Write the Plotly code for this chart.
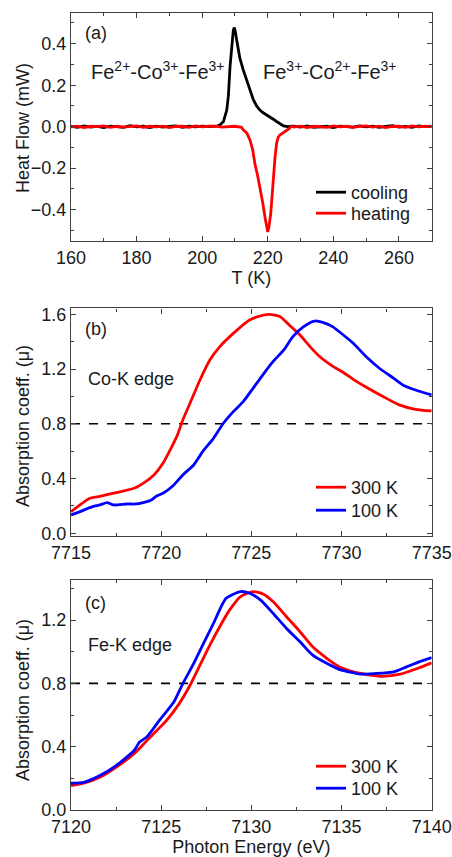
import plotly.graph_objects as go

# ---------------- Panel (a): DSC heat flow ----------------
T_cool = [160, 162, 164, 166, 168, 170, 172, 174, 176, 178, 180, 182, 184, 186, 188, 190, 192, 194, 196, 198, 200, 202,
          203.4, 204.5, 205.4, 206.5, 207.5, 208.0, 208.5, 209.0, 209.5, 209.8, 210.1, 210.5, 211.0, 211.5, 212.5,
          213.6, 214.6, 215.6, 216.6, 217.6, 218.6, 219.7, 220.7, 221.7, 222.7, 223.7, 224.8, 226,
          228, 230, 232, 234, 236, 238, 240, 242, 244, 246, 248, 250, 252, 254, 256, 258, 260, 262, 264, 266, 268, 270]
HF_cool = [0.002, -0.003, 0.004, -0.002, 0.001, -0.004, 0.003, 0.000, -0.003, 0.005, -0.001, 0.002, -0.004, 0.003,
           -0.002, 0.001, 0.004, -0.003, 0.002, -0.001, 0.003, 0.000,
           0.0, 0.003, 0.008, 0.025, 0.08, 0.15, 0.29, 0.40, 0.465, 0.478, 0.46, 0.42, 0.37, 0.33, 0.275,
           0.227, 0.175, 0.13, 0.10, 0.08, 0.067, 0.057, 0.046, 0.036, 0.025, 0.013, 0.004, 0.0,
           0.003, -0.002, 0.004, -0.003, 0.001, 0.002, -0.004, 0.003, 0.000, -0.002, 0.004, -0.001, 0.003, -0.003,
           0.002, 0.005, -0.002, 0.001, -0.003, 0.004, 0.000, 0.002]

T_heat = [160, 162, 164, 166, 168, 170, 172, 174, 176, 178, 180, 182, 184, 186, 188, 190, 192, 194, 196, 198, 200, 202,
          204, 206, 208, 210, 212,
          212.6, 213.6, 214.6, 215.4, 216.1, 216.9, 217.6, 218.4, 219.2, 219.7, 220.0, 220.4, 220.9, 221.3, 221.7,
          222.2, 222.7, 223.2, 223.7, 224.7, 225.8, 226.5, 227.3,
          228, 230, 232, 234, 236, 238, 240, 242, 244, 246, 248, 250, 252, 254, 256, 258, 260, 262, 264, 266, 268, 270]
HF_heat = [-0.001, 0.003, -0.004, 0.002, 0.000, 0.004, -0.003, 0.002, -0.002, 0.001, 0.004, -0.003, 0.002, -0.001,
           0.003, -0.004, 0.001, 0.002, -0.003, 0.004, -0.001, 0.002, 0.003, -0.002, 0.001, 0.002, -0.003,
           -0.016, -0.03, -0.065, -0.11, -0.18, -0.235, -0.29, -0.36, -0.44, -0.49, -0.507, -0.48, -0.42, -0.34, -0.24,
           -0.15, -0.08, -0.05, -0.04, -0.03, -0.02, -0.01, 0.003,
           -0.002, 0.003, -0.004, 0.002, 0.001, -0.003, 0.004, -0.001, 0.002, -0.003, 0.001, 0.004, -0.002, 0.003,
           -0.004, 0.001, 0.002, -0.003, 0.004, -0.001, 0.002, 0.000]

# ---------------- Panel (b): Co-K edge ----------------
E_co_300 = [7715.0, 7716.05, 7716.6, 7717.5, 7718.5, 7719.0, 7719.6, 7720.1, 7720.5, 7720.9, 7721.2, 7721.6, 7722.15,
            7722.7, 7723.25, 7724.0, 7724.9, 7725.7, 7726.0, 7726.6, 7727.1, 7727.7, 7728.25, 7728.8, 7729.5, 7730.1,
            7730.65, 7731.4, 7732.3, 7733.2, 7734.1, 7735.0]
mu_co_300 = [0.158, 0.256, 0.27, 0.297, 0.329, 0.365, 0.426, 0.511, 0.609, 0.718, 0.828, 0.95, 1.12,
             1.266, 1.364, 1.461, 1.559, 1.595, 1.6, 1.583, 1.522, 1.449, 1.364, 1.29, 1.222, 1.175,
             1.125, 1.065, 0.999, 0.938, 0.906, 0.894]
E_co_100 = [7715.0, 7715.5, 7716.2, 7716.6, 7717.0, 7717.35, 7718.1, 7718.6, 7719.4, 7719.75, 7720.1, 7720.7, 7721.2,
            7721.8, 7722.3, 7722.9, 7723.45, 7724.0, 7724.55, 7725.1, 7725.7, 7726.2, 7726.8, 7727.3, 7727.9, 7728.5,
            7729.0, 7729.5, 7730.1, 7730.65, 7731.4, 7732.1, 7732.9, 7733.4, 7734.1, 7735.0]
mu_co_100 = [0.134, 0.158, 0.195, 0.207, 0.224, 0.207, 0.214, 0.214, 0.239, 0.273, 0.292, 0.353, 0.426,
             0.499, 0.597, 0.694, 0.804, 0.889, 0.962, 1.06, 1.169, 1.254, 1.34, 1.437, 1.51, 1.551,
             1.539, 1.51, 1.449, 1.388, 1.286, 1.206, 1.132, 1.084, 1.047, 1.011]

# ---------------- Panel (c): Fe-K edge ----------------
E_fe_300 = [7120.0, 7120.7, 7121.6, 7122.5, 7123.5, 7124.4, 7125.3, 7126.0, 7126.6, 7127.15, 7127.7, 7128.3, 7128.8,
            7129.4, 7130.1, 7130.65, 7131.2, 7131.95, 7132.7, 7133.4, 7134.2, 7134.9, 7135.65, 7136.4, 7137.3, 7138.25,
            7139.2, 7140.0]
mu_fe_300 = [0.154, 0.169, 0.207, 0.27, 0.355, 0.461, 0.566, 0.672, 0.788, 0.915, 1.042, 1.169, 1.264,
             1.348, 1.38, 1.365, 1.317, 1.221, 1.126, 1.031, 0.957, 0.904, 0.873, 0.856, 0.845, 0.858,
             0.894, 0.93]
E_fe_100 = [7120.0, 7120.7, 7121.6, 7122.5, 7123.5, 7123.8, 7124.2, 7124.9, 7125.7, 7126.2, 7126.8, 7127.3, 7127.9,
            7128.6, 7129.4, 7129.9, 7130.5, 7131.2, 7131.95, 7132.7, 7133.4, 7134.2, 7134.9, 7135.85, 7136.0, 7136.8,
            7137.9, 7138.6, 7139.3, 7140.0]
mu_fe_100 = [0.169, 0.175, 0.218, 0.281, 0.376, 0.429, 0.461, 0.566, 0.682, 0.799, 0.925, 1.042, 1.179,
             1.337, 1.38, 1.369, 1.327, 1.243, 1.147, 1.063, 0.978, 0.925, 0.887, 0.862, 0.858, 0.862,
             0.873, 0.904, 0.936, 0.963]

DASH_LEVEL = 0.8

FONT = "Liberation Sans, Arial, sans-serif"
TXT = "#1a1a1a"
FRAME = "#404040"
RED = "#ff0000"
BLUE = "#0000ff"
LW = 2.8

fig = go.Figure()
traces = [
    (T_cool, HF_cool, "cooling", "black", "x", "y", "legend", "linear"),
    (T_heat, HF_heat, "heating", RED, "x", "y", "legend2", "linear"),
    (E_co_300, mu_co_300, "300 K", RED, "x2", "y2", "legend3", "spline"),
    (E_co_100, mu_co_100, "100 K", BLUE, "x2", "y2", "legend4", "spline"),
    (E_fe_300, mu_fe_300, "300 K", RED, "x3", "y3", "legend5", "spline"),
    (E_fe_100, mu_fe_100, "100 K", BLUE, "x3", "y3", "legend6", "spline"),
]
for xs, ys, name, col, xa, ya_, lg, shp in traces:
    line = dict(color=col, width=LW, shape=shp)
    if shp == "spline":
        line["smoothing"] = 0.6
    fig.add_trace(go.Scatter(x=xs, y=ys, mode="lines", name=name, line=line,
                             xaxis=xa, yaxis=ya_, legend=lg))

XD = [71 / 452, 431.7 / 452]


def xax(rng, dtick, minor, title, anchor):
    return dict(domain=XD, range=rng, dtick=dtick, tick0=rng[0], ticks="inside", ticklen=5, tickwidth=1.3,
                tickcolor=FRAME, minor=dict(dtick=minor, ticks="inside", ticklen=3, tickwidth=1.1, tickcolor=FRAME),
                mirror="allticks", showline=True, linecolor=FRAME, linewidth=1.4, showgrid=False, zeroline=False,
                tickfont=dict(family=FONT, size=18, color=TXT),
                title=dict(text=title, font=dict(family=FONT, size=18, color=TXT), standoff=2),
                anchor=anchor, automargin=False)


def yax(dom, rng, dtick, minor, fmt, anchor):
    return dict(domain=dom, range=rng, dtick=dtick, tick0=0, ticks="inside", ticklen=5, tickwidth=1.3,
                tickcolor=FRAME, minor=dict(dtick=minor, ticks="inside", ticklen=3, tickwidth=1.1, tickcolor=FRAME),
                mirror="allticks", showline=True, linecolor=FRAME, linewidth=1.4, showgrid=False, zeroline=False,
                tickformat=fmt, tickfont=dict(family=FONT, size=18, color=TXT),
                anchor=anchor, automargin=False)


leg_common = dict(font=dict(family=FONT, size=18, color=TXT), bgcolor="rgba(0,0,0,0)", borderwidth=0,
                  xanchor="left", yanchor="top", itemwidth=30)
leg_rows = [174, 195, 469, 492, 748, 770]
legends = {}
for i, top in enumerate(leg_rows):
    key = "legend" if i == 0 else f"legend{i + 1}"
    legends[key] = dict(x=311 / 452, y=1 - top / 857, **leg_common)

fig.update_layout(
    width=452, height=857,
    margin=dict(l=0, r=0, t=0, b=0),
    paper_bgcolor="white", plot_bgcolor="white",
    font=dict(family=FONT, size=18, color=TXT),
    xaxis=xax([160, 270], 20, 10, "T (K)", "y"),
    xaxis2=xax([7715, 7735], 5, 2.5, "", "y2"),
    xaxis3=xax([7120, 7140], 5, 2.5, "Photon Energy (eV)", "y3"),
    yaxis=yax([1 - 241 / 857, 1 - 13 / 857], [-0.551, 0.548], 0.2, 0.1, ".1f", "x"),
    yaxis2=yax([1 - 536 / 857, 1 - 308.3 / 857], [-0.02, 1.644], 0.4, 0.2, ".1f", "x2"),
    yaxis3=yax([1 - 810 / 857, 1 - 580 / 857], [0, 1.453], 0.4, 0.2, ".1f", "x3"),
    showlegend=True,
    **legends,
)

for xr, yr in (("x2", "y2"), ("x3", "y3")):
    fig.add_shape(type="line", xref=f"{xr} domain", yref=yr, x0=0, x1=1, y0=DASH_LEVEL, y1=DASH_LEVEL,
                  line=dict(color="black", width=1.6, dash="dash"), layer="below")

# y-axis titles
for text, py in (("Heat Flow (mW)", 128), ("Absorption coeff. (\u03bc)", 426), ("Absorption coeff. (\u03bc)", 700)):
    fig.add_annotation(text=text, x=23 / 452, y=1 - py / 857, xref="paper", yref="paper", textangle=-90,
                       xanchor="center", yanchor="middle", showarrow=False,
                       font=dict(family=FONT, size=18, color=TXT))

anns = [
    ("(a)", 83, 33, 18),
    ("Fe<sup>2+</sup>-Co<sup>3+</sup>-Fe<sup>3+</sup>", 89, 71, 20),
    ("Fe<sup>3+</sup>-Co<sup>2+</sup>-Fe<sup>3+</sup>", 261, 71, 20),
    ("(b)", 83, 329, 18),
    ("Co-K edge", 86, 379, 18),
    ("(c)", 83, 603, 18),
    ("Fe-K edge", 86, 645, 18),
]
for text, px, py, fs in anns:
    fig.add_annotation(text=text, x=px / 452, y=1 - py / 857, xref="paper", yref="paper",
                       xanchor="left", yanchor="middle", showarrow=False,
                       font=dict(family=FONT, size=fs, color=TXT))

fig.write_html("out.html")
